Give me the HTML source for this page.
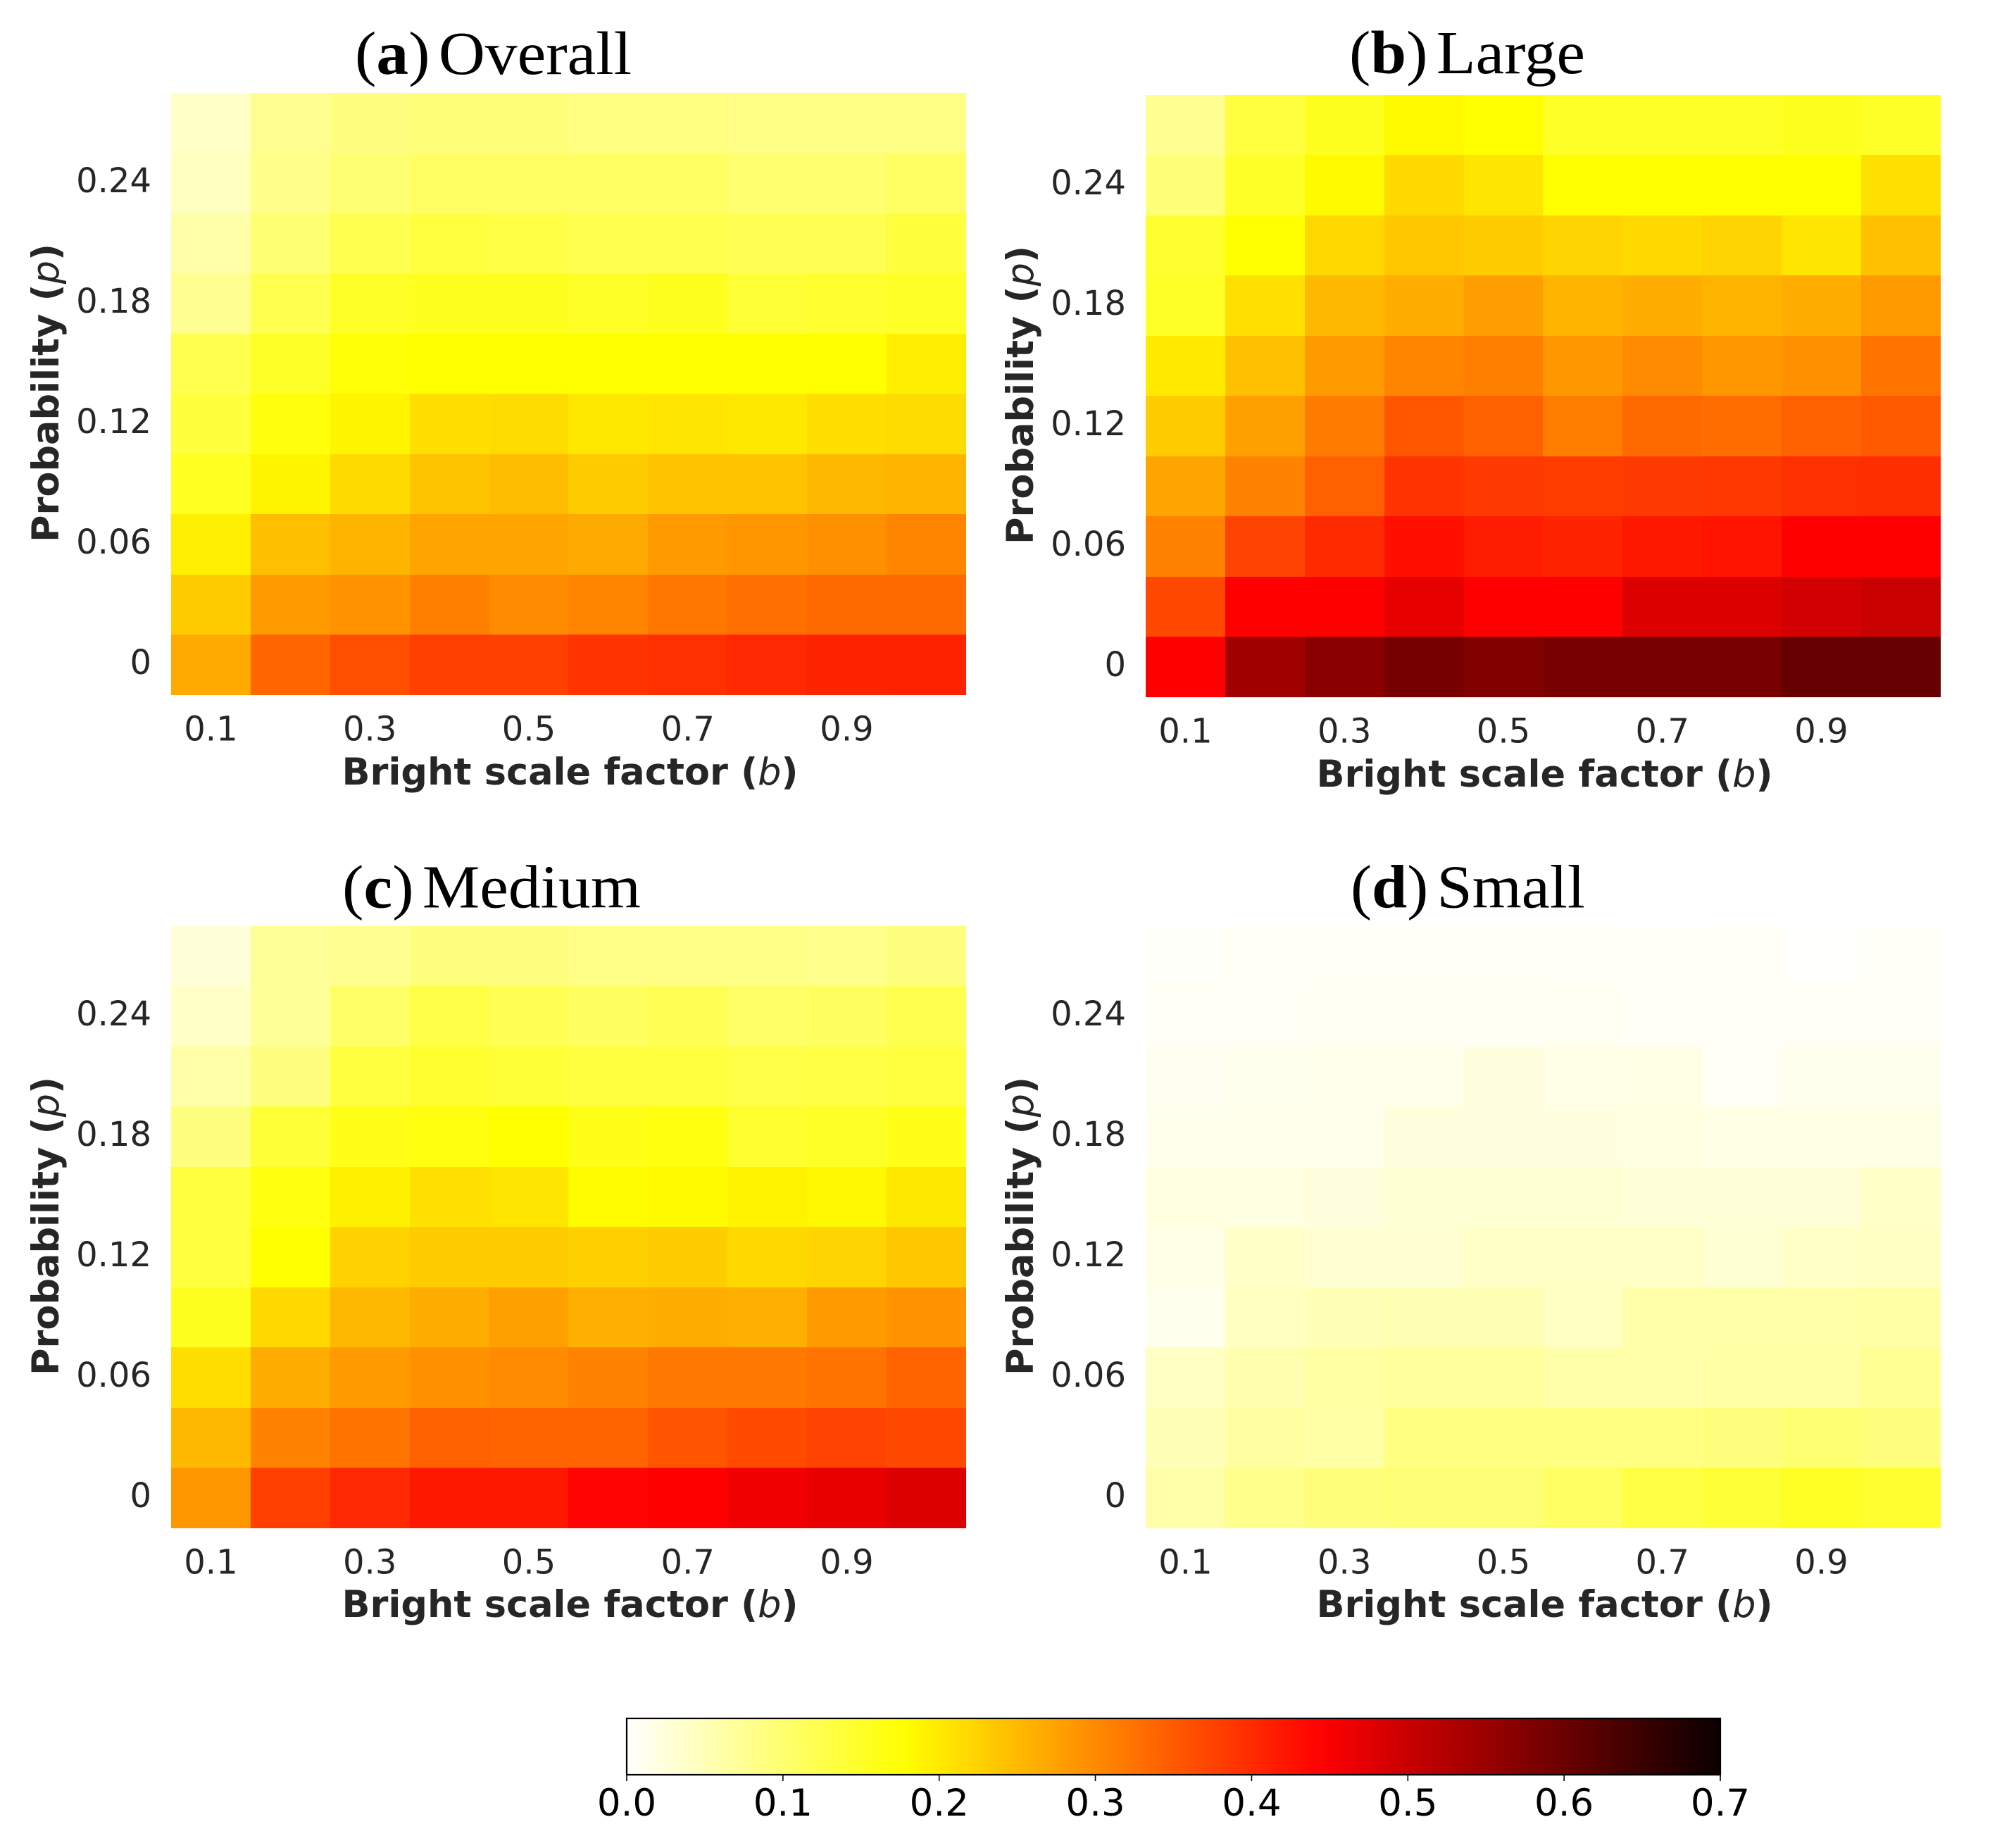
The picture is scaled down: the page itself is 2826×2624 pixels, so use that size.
<!DOCTYPE html>
<html lang="en">
<head>
<meta charset="utf-8">
<title>Heatmaps of bright scale factor and probability</title>
<style>
html,body{margin:0;padding:0;background:#fff;}
svg{display:block;}
.title{font-family:"Liberation Serif",serif;font-size:87px;fill:#000;word-spacing:-10px;}
.title .bold{font-weight:bold;}
.axis-title{font-family:"DejaVu Sans",sans-serif;font-size:52.5px;font-weight:bold;fill:#262626;}
.axis-title .math{font-style:italic;font-weight:normal;}
.tick{font-family:"DejaVu Sans",sans-serif;font-size:48px;fill:#262626;}
.cbar-tick{font-family:"DejaVu Sans",sans-serif;font-size:53px;fill:#000;text-anchor:middle;}
</style>
</head>
<body>
<svg id="figure" xmlns="http://www.w3.org/2000/svg" width="2826" height="2624" viewBox="0 0 2826 2624">
  <rect x="0" y="0" width="2826" height="2624" fill="#ffffff"/>

  <text class="title" x="504" y="105" textLength="393" lengthAdjust="spacingAndGlyphs">(<tspan class="bold">a</tspan>) Overall</text>
  <text class="title" x="1916" y="104" textLength="335" lengthAdjust="spacingAndGlyphs">(<tspan class="bold">b</tspan>) Large</text>
  <text class="title" x="486" y="1288.5" textLength="424" lengthAdjust="spacingAndGlyphs">(<tspan class="bold">c</tspan>) Medium</text>
  <text class="title" x="1918" y="1288.5" textLength="333" lengthAdjust="spacingAndGlyphs">(<tspan class="bold">d</tspan>) Small</text>

  <text class="axis-title" x="809.5" y="1114" text-anchor="middle">Bright scale factor (<tspan class="math">b</tspan>)</text>
  <text class="axis-title" x="2193.5" y="1117" text-anchor="middle">Bright scale factor (<tspan class="math">b</tspan>)</text>
  <text class="axis-title" x="809.5" y="2296" text-anchor="middle">Bright scale factor (<tspan class="math">b</tspan>)</text>
  <text class="axis-title" x="2193.5" y="2296" text-anchor="middle">Bright scale factor (<tspan class="math">b</tspan>)</text>

  <text class="axis-title" text-anchor="middle" transform="translate(83,558) rotate(-90)">Probability (<tspan class="math">p</tspan>)</text>
  <text class="axis-title" text-anchor="middle" transform="translate(1467,561) rotate(-90)">Probability (<tspan class="math">p</tspan>)</text>
  <text class="axis-title" text-anchor="middle" transform="translate(83,1741) rotate(-90)">Probability (<tspan class="math">p</tspan>)</text>
  <text class="axis-title" text-anchor="middle" transform="translate(1467,1741) rotate(-90)">Probability (<tspan class="math">p</tspan>)</text>

  <g id="panels"></g>

  <defs>
    <linearGradient id="cbar-gradient" x1="0" y1="0" x2="1" y2="0"></linearGradient>
  </defs>
  <g id="colorbar">
    <rect x="890" y="2440" width="1553" height="80" fill="url(#cbar-gradient)" stroke="#000" stroke-width="2.2"/>
  </g>
</svg>
<script>
// Categories (probability rows listed top to bottom, bright scale factor left to right)
const bCategories = [0.1, 0.2, 0.3, 0.4, 0.5, 0.6, 0.7, 0.8, 0.9, 1.0];
const pCategories = [0.27, 0.24, 0.21, 0.18, 0.15, 0.12, 0.09, 0.06, 0.03, 0];

// Tick labels
const xTickLabels = ['0.1', '0.3', '0.5', '0.7', '0.9'];
const yTickLabels = ['0.24', '0.18', '0.12', '0.06', '0'];
const colorbarTickLabels = ['0.0', '0.1', '0.2', '0.3', '0.4', '0.5', '0.6', '0.7'];

// Series values, one row per probability
const overallValues = [
  [0.038, 0.077, 0.089, 0.093, 0.093, 0.087, 0.087, 0.085, 0.085, 0.085],
  [0.044, 0.082, 0.098, 0.108, 0.108, 0.108, 0.108, 0.100, 0.100, 0.108],
  [0.060, 0.098, 0.122, 0.133, 0.130, 0.122, 0.122, 0.120, 0.120, 0.135],
  [0.077, 0.122, 0.150, 0.156, 0.156, 0.150, 0.156, 0.140, 0.145, 0.150],
  [0.122, 0.150, 0.172, 0.178, 0.178, 0.178, 0.178, 0.178, 0.178, 0.196],
  [0.135, 0.170, 0.188, 0.212, 0.214, 0.202, 0.205, 0.202, 0.212, 0.214],
  [0.155, 0.188, 0.216, 0.239, 0.247, 0.231, 0.241, 0.241, 0.252, 0.255],
  [0.194, 0.245, 0.256, 0.272, 0.272, 0.267, 0.282, 0.288, 0.294, 0.306],
  [0.231, 0.282, 0.290, 0.311, 0.298, 0.306, 0.321, 0.327, 0.334, 0.334],
  [0.267, 0.338, 0.363, 0.378, 0.378, 0.390, 0.394, 0.403, 0.407, 0.409]
];
const largeValues = [
  [0.077, 0.133, 0.156, 0.183, 0.178, 0.150, 0.150, 0.150, 0.156, 0.150],
  [0.094, 0.150, 0.183, 0.217, 0.205, 0.178, 0.178, 0.178, 0.178, 0.210],
  [0.145, 0.178, 0.219, 0.236, 0.231, 0.223, 0.219, 0.223, 0.206, 0.244],
  [0.150, 0.210, 0.250, 0.263, 0.279, 0.256, 0.263, 0.256, 0.263, 0.284],
  [0.200, 0.244, 0.282, 0.306, 0.311, 0.286, 0.298, 0.286, 0.294, 0.323],
  [0.231, 0.277, 0.315, 0.355, 0.344, 0.313, 0.334, 0.330, 0.344, 0.350],
  [0.272, 0.307, 0.344, 0.390, 0.384, 0.382, 0.384, 0.386, 0.394, 0.396],
  [0.307, 0.374, 0.399, 0.428, 0.415, 0.407, 0.419, 0.424, 0.444, 0.444],
  [0.369, 0.444, 0.444, 0.470, 0.444, 0.444, 0.480, 0.480, 0.490, 0.502],
  [0.444, 0.544, 0.567, 0.588, 0.577, 0.586, 0.586, 0.586, 0.604, 0.604]
];
const mediumValues = [
  [0.027, 0.072, 0.077, 0.089, 0.089, 0.083, 0.083, 0.083, 0.080, 0.089],
  [0.038, 0.072, 0.105, 0.128, 0.119, 0.111, 0.118, 0.105, 0.111, 0.122],
  [0.061, 0.089, 0.133, 0.145, 0.139, 0.133, 0.133, 0.128, 0.130, 0.133],
  [0.089, 0.139, 0.161, 0.167, 0.178, 0.161, 0.167, 0.145, 0.150, 0.161],
  [0.133, 0.167, 0.192, 0.210, 0.206, 0.181, 0.183, 0.190, 0.185, 0.202],
  [0.133, 0.178, 0.225, 0.231, 0.231, 0.227, 0.231, 0.219, 0.223, 0.236],
  [0.156, 0.219, 0.252, 0.265, 0.277, 0.261, 0.265, 0.261, 0.282, 0.290],
  [0.212, 0.265, 0.282, 0.294, 0.298, 0.307, 0.319, 0.319, 0.323, 0.340],
  [0.250, 0.307, 0.323, 0.344, 0.340, 0.340, 0.356, 0.367, 0.374, 0.369],
  [0.285, 0.378, 0.403, 0.419, 0.419, 0.440, 0.444, 0.460, 0.468, 0.481]
];
const smallValues = [
  [0.004, 0.006, 0.006, 0.006, 0.006, 0.006, 0.005, 0.006, 0.003, 0.005],
  [0.006, 0.007, 0.008, 0.008, 0.008, 0.009, 0.005, 0.005, 0.006, 0.006],
  [0.010, 0.012, 0.014, 0.014, 0.022, 0.016, 0.018, 0.007, 0.012, 0.012],
  [0.014, 0.014, 0.014, 0.024, 0.022, 0.022, 0.020, 0.018, 0.018, 0.018],
  [0.020, 0.020, 0.024, 0.030, 0.030, 0.030, 0.028, 0.028, 0.028, 0.040],
  [0.016, 0.038, 0.032, 0.032, 0.040, 0.040, 0.040, 0.030, 0.038, 0.042],
  [0.012, 0.044, 0.050, 0.052, 0.052, 0.042, 0.060, 0.060, 0.060, 0.062],
  [0.042, 0.056, 0.064, 0.070, 0.070, 0.060, 0.060, 0.062, 0.062, 0.075],
  [0.050, 0.065, 0.062, 0.088, 0.088, 0.088, 0.088, 0.090, 0.098, 0.090],
  [0.060, 0.080, 0.092, 0.095, 0.095, 0.108, 0.130, 0.140, 0.152, 0.145]
];

const SVG_NS = 'http://www.w3.org/2000/svg';
const colorMax = 0.7;
const cellWidth = 112.88;
const cellHeight = 85.5;

// Reversed "hot" colormap
function hotReversed(value) {
  const t = 1 - Math.min(1, Math.max(0, value / colorMax));
  const r = t < 0.365079 ? 0.0416 + 0.9584 * t / 0.365079 : 1;
  const g = t < 0.365079 ? 0 : (t < 0.746032 ? (t - 0.365079) / 0.380953 : 1);
  const b = t < 0.746032 ? 0 : (t - 0.746032) / 0.253968;
  return 'rgb(' + Math.round(r * 255) + ',' + Math.round(g * 255) + ',' + Math.round(b * 255) + ')';
}

function makeXScale(left) {
  return function (b) {
    return left + ((b - bCategories[0]) / 0.1) * cellWidth;
  };
}
function makeYScale(top) {
  return function (p) {
    return top + ((pCategories[0] - p) / 0.03) * cellHeight;
  };
}

function drawPanel(key, values, left, top) {
  const x = makeXScale(left);
  const y = makeYScale(top);
  const group = document.createElementNS(SVG_NS, 'g');
  
  
  document.getElementById('panels').appendChild(group);

  pCategories.forEach(function (p, row) {
    bCategories.forEach(function (b, col) {
      const cell = document.createElementNS(SVG_NS, 'rect');
      
      
      const x0 = Math.round(x(b));
      const y0 = Math.round(y(p));
      cell.setAttribute('x', x0);
      cell.setAttribute('y', y0);
      cell.setAttribute('width', Math.round(x(b) + cellWidth) - x0);
      cell.setAttribute('height', Math.round(y(p) + cellHeight) - y0);
      cell.setAttribute('fill', hotReversed(values[row][col]));
      cell.setAttribute('shape-rendering', 'crispEdges');
      group.appendChild(cell);
    });
  });

  xTickLabels.forEach(function (label) {
    const tick = document.createElementNS(SVG_NS, 'text');
    
    
    tick.setAttribute('class', 'tick');
    tick.setAttribute('text-anchor', 'middle');
    tick.setAttribute('x', x(parseFloat(label)) + cellWidth / 2);
    tick.setAttribute('y', top + cellHeight * 10 + 65);
    tick.textContent = label;
    group.appendChild(tick);
  });

  yTickLabels.forEach(function (label) {
    const tick = document.createElementNS(SVG_NS, 'text');
    
    
    tick.setAttribute('class', 'tick');
    tick.setAttribute('text-anchor', 'end');
    tick.setAttribute('x', left - 28);
    tick.setAttribute('y', y(parseFloat(label)) + cellHeight / 2 + 13);
    tick.textContent = label;
    group.appendChild(tick);
  });
}

drawPanel('overall', overallValues, 243, 131.6);
drawPanel('large', largeValues, 1627, 134.5);
drawPanel('medium', mediumValues, 243, 1314.5);
drawPanel('small', smallValues, 1627, 1314.5);

// Colorbar gradient and ticks
const barLeft = 890;
const barWidth = 1553;
const barBottom = 2520.5;
const gradient = document.getElementById('cbar-gradient');
for (let i = 0; i <= 70; i++) {
  const stop = document.createElementNS(SVG_NS, 'stop');
  stop.setAttribute('offset', (i / 70).toFixed(4));
  stop.setAttribute('stop-color', hotReversed(colorMax * i / 70));
  gradient.appendChild(stop);
}
function colorbarX(value) {
  return barLeft + (value / colorMax) * barWidth;
}
const colorbarGroup = document.getElementById('colorbar');
colorbarTickLabels.forEach(function (label) {
  const value = parseFloat(label);
  const mark = document.createElementNS(SVG_NS, 'line');
  
  
  mark.setAttribute('x1', colorbarX(value));
  mark.setAttribute('x2', colorbarX(value));
  mark.setAttribute('y1', barBottom);
  mark.setAttribute('y2', 2529);
  mark.setAttribute('stroke', '#000');
  mark.setAttribute('stroke-width', '1.6');
  colorbarGroup.appendChild(mark);

  const text = document.createElementNS(SVG_NS, 'text');
  
  
  text.setAttribute('class', 'cbar-tick');
  text.setAttribute('x', colorbarX(value));
  text.setAttribute('y', 2578);
  text.textContent = label;
  colorbarGroup.appendChild(text);
});
</script>
</body>
</html>
